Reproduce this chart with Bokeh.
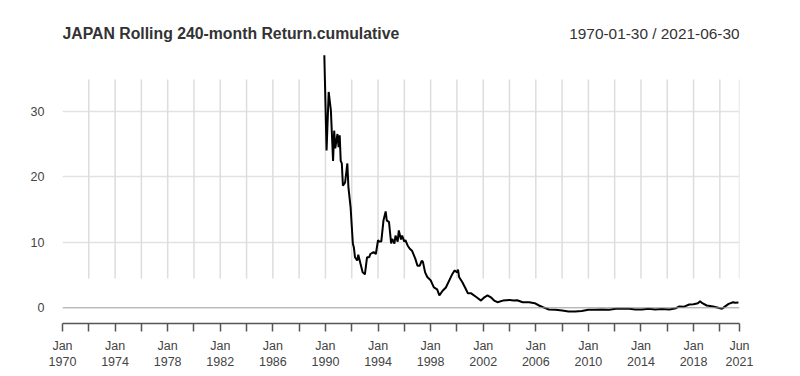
import pandas as pd
from bokeh.plotting import figure
from bokeh.models import FixedTicker, Range1d, Span, Label, ColumnDataSource
from bokeh.embed import file_html
from bokeh.resources import INLINE

# ---- data ----
title_text = "JAPAN Rolling 240-month Return.cumulative"
range_text = "1970-01-30 / 2021-06-30"

dates = [
    "1989-12", "1990-02", "1990-04", "1990-06", "1990-08", "1990-09", "1990-10", "1990-12",
    "1991-01", "1991-02", "1991-03", "1991-04", "1991-05", "1991-07", "1991-09", "1991-10",
    "1991-12", "1992-02", "1992-03", "1992-04", "1992-06", "1992-07", "1992-09", "1992-11",
    "1993-01", "1993-03", "1993-05", "1993-06", "1993-09", "1993-11", "1994-01", "1994-02",
    "1994-04", "1994-06", "1994-08", "1994-09", "1994-11", "1995-01", "1995-02", "1995-04",
    "1995-05", "1995-07", "1995-08", "1995-10", "1995-11", "1996-01", "1996-02", "1996-04",
    "1996-06", "1996-08", "1996-11", "1997-01", "1997-03", "1997-05", "1997-06", "1997-08",
    "1997-10", "1998-01", "1998-04", "1998-07", "1998-09", "1998-12", "1999-03", "1999-09",
    "1999-11", "2000-01", "2000-02", "2000-03", "2000-06", "2000-09", "2000-11", "2001-02",
    "2001-07", "2001-11", "2002-02", "2002-05", "2002-08", "2002-11", "2003-02", "2003-07",
    "2004-01", "2004-05", "2004-08", "2005-01", "2005-07", "2005-12", "2006-04", "2006-09",
    "2007-01", "2007-07", "2008-01", "2008-07", "2009-01", "2009-07", "2010-01", "2010-07",
    "2011-01", "2011-08", "2012-02", "2012-08", "2013-02", "2013-08", "2014-02", "2014-08",
    "2015-02", "2015-08", "2016-03", "2016-09", "2016-12", "2017-04", "2017-09", "2018-01",
    "2018-05", "2018-07", "2018-09", "2019-01", "2019-07", "2020-03", "2020-05", "2020-09",
    "2021-01", "2021-03", "2021-06",
]
values = [
    38.5, 24.0, 32.9, 30.1, 22.4, 27.0, 24.3, 26.5,
    24.5, 26.3, 22.4, 22.0, 18.6, 19.1, 22.0, 18.4,
    15.3, 9.8, 9.2, 7.7, 7.2, 8.1, 6.7, 5.4,
    5.1, 7.7, 7.7, 8.2, 8.5, 8.2, 10.3, 10.1,
    10.1, 13.3, 14.7, 13.3, 13.1, 9.8, 10.5, 9.8,
    11.0, 10.1, 11.8, 10.4, 11.0, 10.1, 10.3, 9.5,
    9.0, 8.7, 7.5, 6.4, 6.4, 7.2, 7.0, 5.4,
    4.7, 4.2, 3.1, 2.8, 1.9, 2.6, 3.1, 5.2,
    5.7, 5.4, 5.8, 4.7, 3.9, 2.9, 2.2, 2.2,
    1.6, 1.1, 1.6, 1.9, 1.6, 1.1, 0.85, 1.1,
    1.2, 1.1, 1.15, 0.85, 0.85, 0.7, 0.35, 0.0,
    -0.26, -0.3, -0.4, -0.56, -0.56, -0.5, -0.3, -0.3,
    -0.26, -0.3, -0.15, -0.15, -0.15, -0.26, -0.26, -0.15,
    -0.26, -0.2, -0.26, -0.06, 0.2, 0.15, 0.5, 0.55,
    0.7, 1.0, 0.7, 0.35, 0.2, -0.15, 0.1, 0.6,
    0.85, 0.76, 0.8,
]

tick_dates = ["1970-01-01", "1972-01-01", "1974-01-01", "1976-01-01", "1978-01-01",
              "1980-01-01", "1982-01-01", "1984-01-01", "1986-01-01", "1988-01-01",
              "1990-01-01", "1992-01-01", "1994-01-01", "1996-01-01", "1998-01-01",
              "2000-01-01", "2002-01-01", "2004-01-01", "2006-01-01", "2008-01-01",
              "2010-01-01", "2012-01-01", "2014-01-01", "2016-01-01", "2018-01-01",
              "2020-01-01", "2021-06-30"]
tick_labels = ["Jan\n1970", "", "Jan\n1974", "", "Jan\n1978", "", "Jan\n1982", "",
               "Jan\n1986", "", "Jan\n1990", "", "Jan\n1994", "", "Jan\n1998", "",
               "Jan\n2002", "", "Jan\n2006", "", "Jan\n2010", "", "Jan\n2014", "",
               "Jan\n2018", "", "Jun\n2021"]
y_ticks = [0, 10, 20, 30]

# ---- helpers ----
EPOCH = pd.Timestamp("1970-01-01")


def ms(s):
    return int((pd.Timestamp(s) - EPOCH) / pd.Timedelta(milliseconds=1))


FONT = "Liberation Sans"
x_ms = [ms(d + "-01") for d in dates]
tick_ms = [ms(d) for d in tick_dates]

PX_PER_UNIT = 6.56
Y0_PX = 307.3
TOP_PX = 4
y_lo = -(323 - Y0_PX) / PX_PER_UNIT
y_hi = (Y0_PX - TOP_PX) / PX_PER_UNIT

p = figure(width=800, height=376, x_axis_type="datetime",
           x_range=Range1d(ms("1970-01-01"), ms("2021-06-30")),
           y_range=Range1d(y_lo, y_hi),
           output_backend="svg", toolbar_location=None, title=None,
           min_border_left=62, min_border_right=61,
           min_border_top=TOP_PX, min_border_bottom=53)
p.outline_line_color = None
p.background_fill_color = "white"
p.border_fill_color = "white"

# grids
p.xgrid.visible = False
p.ygrid.ticker = FixedTicker(ticks=[t for t in y_ticks if t != 0])
p.ygrid.grid_line_color = "#e2e2e2"
p.ygrid.grid_line_width = 1.5

grid_src = ColumnDataSource(dict(x=tick_ms[1:]))
p.segment(x0="x", x1="x", y0=(Y0_PX - 278) / PX_PER_UNIT, y1=(Y0_PX - 79) / PX_PER_UNIT,
          source=grid_src, line_color="#dddddd", line_width=1.5)

p.add_layout(Span(location=0, dimension="width", line_color="#9a9a9a", line_width=1))

# line
src = ColumnDataSource(dict(x=x_ms, y=values))
p.line("x", "y", source=src, line_color="black", line_width=2)

# x axis
xa = p.xaxis[0]
xa.ticker = FixedTicker(ticks=tick_ms, minor_ticks=[])
xa.major_label_overrides = {t: l for t, l in zip(tick_ms, tick_labels)}
xa.axis_line_color = "#555555"
xa.axis_line_width = 1.5
xa.major_tick_line_color = "#555555"
xa.major_tick_line_width = 1.5
xa.major_tick_in = 0
xa.major_tick_out = 8
xa.minor_tick_line_color = None
xa.major_label_standoff = 7
xa.major_label_text_font = FONT
xa.major_label_text_font_size = "12.5px"
xa.major_label_text_color = "#444444"

# y axis
ya = p.yaxis[0]
ya.ticker = FixedTicker(ticks=y_ticks, minor_ticks=[])
ya.axis_line_color = None
ya.major_tick_line_color = None
ya.minor_tick_line_color = None
ya.major_tick_in = 0
ya.major_tick_out = 0
ya.major_label_standoff = 18
ya.major_label_text_font = FONT
ya.major_label_text_font_size = "12.5px"
ya.major_label_text_color = "#444444"

# titles (inside the extended frame)
y_title = (Y0_PX - 33) / PX_PER_UNIT
p.add_layout(Label(x=ms("1970-01-01"), y=y_title, text=title_text,
                   text_font=FONT, text_font_style="bold", text_font_size="15.8px",
                   text_color="#333333", text_align="left", text_baseline="middle"))
p.add_layout(Label(x=ms("2021-06-30"), y=y_title, text=range_text,
                   text_font=FONT, text_font_size="15.4px",
                   text_color="#333333", text_align="right", text_baseline="middle"))

open("out.html", "w").write(file_html(p, INLINE))
